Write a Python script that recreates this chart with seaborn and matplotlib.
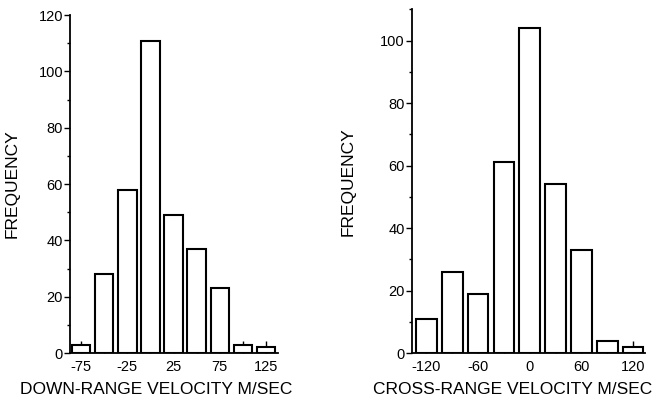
import numpy as np
import pandas as pd
import matplotlib
matplotlib.use("Agg")
import matplotlib.pyplot as plt
from matplotlib.ticker import AutoMinorLocator
import seaborn as sns

# down-range velocity histogram (bar centres in m/sec, counts)
down_centers = [-75, -50, -25, 0, 25, 50, 75, 100, 125]
down_counts = [3, 28, 58, 111, 49, 37, 23, 3, 2]
down_labels = ["-75", "", "-25", "", "25", "", "75", "", "125"]

# cross-range velocity histogram
cross_centers = [-120, -90, -60, -30, 0, 30, 60, 90, 120]
cross_counts = [11, 26, 19, 61, 104, 54, 33, 4, 2]
cross_labels = ["-120", "", "-60", "", "0", "", "60", "", "120"]

sns.set_style("ticks")
plt.rcParams["font.family"] = ["Liberation Sans", "DejaVu Sans"]
plt.rcParams["text.color"] = "black"
plt.rcParams["axes.labelcolor"] = "black"

fig = plt.figure(figsize=(6.63, 4.09), dpi=100)
ax1 = fig.add_axes([0.1056, 0.1369, 0.3137, 0.826])
ax2 = fig.add_axes([0.621, 0.1369, 0.352, 0.840])


def draw_hist(ax, centers, counts, step, labels, xlim, ylim, yticks, xlabel,
              xlab_x, ylab_x):
    df = pd.DataFrame({"v": centers, "n": counts})
    sns.histplot(data=df, x="v", weights="n", binwidth=step,
                 binrange=(centers[0] - step / 2, centers[-1] + step / 2),
                 shrink=0.8, ax=ax, color="white", edgecolor="black",
                 linewidth=1.5, alpha=1)
    ax.set_xlim(*xlim)
    ax.set_ylim(*ylim)
    ax.set_xticks(centers)
    ax.set_xticklabels(labels)
    ax.set_yticks(yticks)
    ax.yaxis.set_minor_locator(AutoMinorLocator(2))
    ax.tick_params(axis="x", direction="in", length=9, width=1, pad=5,
                   labelsize=10.5, colors="black")
    ax.tick_params(axis="y", which="major", direction="out", length=4,
                   width=1, pad=1, labelsize=10.5, colors="black")
    ax.tick_params(axis="y", which="minor", direction="out", length=2, width=1,
                   colors="black")
    sns.despine(ax=ax)
    for s in ["left", "bottom"]:
        ax.spines[s].set_linewidth(1.3)
        ax.spines[s].set_color("black")
    ax.set_ylabel("FREQUENCY", fontsize=12.5, color="black")
    ax.yaxis.set_label_coords(ylab_x, 0.5)
    ax.set_xlabel("")
    fig.text(xlab_x, 0.048, xlabel, fontsize=12.5, ha="center", va="center",
             color="black")


draw_hist(ax1, down_centers, down_counts, 25, down_labels, (-87, 138), (0, 120),
          [0, 20, 40, 60, 80, 100, 120], "DOWN-RANGE VELOCITY M/SEC",
          156 / 663, -0.24)
draw_hist(ax2, cross_centers, cross_counts, 30, cross_labels, (-137, 134), (0, 110),
          [0, 20, 40, 60, 80, 100], "CROSS-RANGE VELOCITY M/SEC",
          513 / 663, -0.24)

fig.savefig("out.png", dpi=100)
